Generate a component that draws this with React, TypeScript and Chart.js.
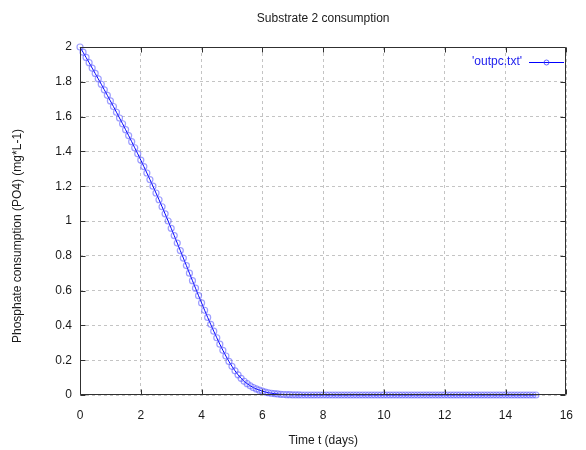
import React, { useEffect, useRef } from "react";
import { Chart, registerables } from "chart.js";

Chart.register(...registerables);

const chartTitle = "Substrate 2 consumption";
const xAxisTitle = "Time t (days)";
const yAxisTitle = "Phosphate consumption (PO4) (mg*L-1)";
const seriesName = "'outpc.txt'";

const xTickLabels = ["0", "2", "4", "6", "8", "10", "12", "14", "16"];
const yTickLabels = ["0", "0.2", "0.4", "0.6", "0.8", "1", "1.2", "1.4", "1.6", "1.8", "2"];

const times = [
  0, 0.1, 0.2, 0.3, 0.4, 0.5, 0.6, 0.7, 0.8, 0.9,
  1, 1.1, 1.2, 1.3, 1.4, 1.5, 1.6, 1.7, 1.8, 1.9,
  2, 2.1, 2.2, 2.3, 2.4, 2.5, 2.6, 2.7, 2.8, 2.9,
  3, 3.1, 3.2, 3.3, 3.4, 3.5, 3.6, 3.7, 3.8, 3.9,
  4, 4.1, 4.2, 4.3, 4.4, 4.5, 4.6, 4.7, 4.8, 4.9,
  5, 5.1, 5.2, 5.3, 5.4, 5.5, 5.6, 5.7, 5.8, 5.9,
  6, 6.1, 6.2, 6.3, 6.4, 6.5, 6.6, 6.7, 6.8, 6.9,
  7, 7.1, 7.2, 7.3, 7.4, 7.5, 7.6, 7.7, 7.8, 7.9,
  8, 8.1, 8.2, 8.3, 8.4, 8.5, 8.6, 8.7, 8.8, 8.9,
  9, 9.1, 9.2, 9.3, 9.4, 9.5, 9.6, 9.7, 9.8, 9.9,
  10, 10.1, 10.2, 10.3, 10.4, 10.5, 10.6, 10.7, 10.8, 10.9,
  11, 11.1, 11.2, 11.3, 11.4, 11.5, 11.6, 11.7, 11.8, 11.9,
  12, 12.1, 12.2, 12.3, 12.4, 12.5, 12.6, 12.7, 12.8, 12.9,
  13, 13.1, 13.2, 13.3, 13.4, 13.5, 13.6, 13.7, 13.8, 13.9,
  14, 14.1, 14.2, 14.3, 14.4, 14.5, 14.6, 14.7, 14.8, 14.9,
  15,
];

const phosphate = [
  2.0, 1.97, 1.94, 1.91, 1.879, 1.848, 1.817, 1.786, 1.754, 1.722,
  1.69, 1.658, 1.625, 1.592, 1.559, 1.525, 1.491, 1.456, 1.421, 1.386,
  1.35, 1.313, 1.276, 1.238, 1.2, 1.161, 1.122, 1.082, 1.041, 1.0,
  0.958, 0.916, 0.873, 0.83, 0.787, 0.744, 0.7, 0.657, 0.614, 0.571,
  0.529, 0.487, 0.446, 0.406, 0.367, 0.329, 0.292, 0.257, 0.224, 0.193,
  0.165, 0.139, 0.116, 0.096, 0.079, 0.065, 0.053, 0.043, 0.035, 0.028,
  0.022, 0.017, 0.013, 0.01, 0.008, 0.006, 0.004, 0.003, 0.002, 0.002,
  0.001, 0.001, 0.001, 0, 0, 0, 0, 0, 0, 0,
  0, 0, 0, 0, 0, 0, 0, 0, 0, 0,
  0, 0, 0, 0, 0, 0, 0, 0, 0, 0,
  0, 0, 0, 0, 0, 0, 0, 0, 0, 0,
  0, 0, 0, 0, 0, 0, 0, 0, 0, 0,
  0, 0, 0, 0, 0, 0, 0, 0, 0, 0,
  0, 0, 0, 0, 0, 0, 0, 0, 0, 0,
  0, 0, 0, 0, 0, 0, 0, 0, 0, 0,
  0,
];

const FONT = '"Liberation Sans", Arial, sans-serif';
const TEXT = "#1a1a1a";
const BLUE = "#0000ff";

const decor = {
  id: "decor",
  afterDraw(chart: any) {
    const { ctx, chartArea, scales } = chart;
    const { left, right, top, bottom } = chartArea;
    ctx.save();
    ctx.setLineDash([]);
    ctx.strokeStyle = "#303030";
    ctx.lineWidth = 1;
    const L = Math.round(left) + 0.5;
    const R = Math.round(right) - 0.5;
    const T = Math.round(top) + 0.5;
    const B = Math.round(bottom) - 0.5;
    ctx.beginPath();
    ctx.rect(L, T, R - L, B - T);
    ctx.stroke();
    // inward tick marks on all sides
    ctx.beginPath();
    scales.x.ticks.forEach((t: any) => {
      const px = Math.round(scales.x.getPixelForValue(t.value)) + 0.5;
      ctx.moveTo(px, B);
      ctx.lineTo(px, B - 5);
      ctx.moveTo(px, T);
      ctx.lineTo(px, T + 5);
    });
    scales.y.ticks.forEach((t: any) => {
      const py = Math.round(scales.y.getPixelForValue(t.value)) + 0.5;
      ctx.moveTo(L, py);
      ctx.lineTo(L + 5, py);
      ctx.moveTo(R, py);
      ctx.lineTo(R - 5, py);
    });
    ctx.stroke();

    // titles
    const cx = (left + right) / 2;
    ctx.fillStyle = TEXT;
    ctx.font = `12px ${FONT}`;
    ctx.textBaseline = "middle";
    ctx.textAlign = "center";
    ctx.fillText(chartTitle, cx, 19);
    ctx.fillText(xAxisTitle, cx, 441);
    ctx.save();
    ctx.translate(18, 236);
    ctx.rotate(-Math.PI / 2);
    ctx.fillText(yAxisTitle, 0, 0);
    ctx.restore();

    // legend inside plot
    ctx.fillStyle = "#2222ee";
    ctx.textAlign = "right";
    ctx.fillText(seriesName, 522, 62);
    ctx.strokeStyle = BLUE;
    ctx.beginPath();
    ctx.moveTo(529, 62.5);
    ctx.lineTo(564, 62.5);
    ctx.stroke();
    ctx.strokeStyle = "rgba(60,60,255,0.8)";
    ctx.beginPath();
    ctx.arc(546.5, 62.5, 2.5, 0, Math.PI * 2);
    ctx.stroke();
    ctx.restore();
  },
};

export default function App() {
  const ref = useRef<HTMLCanvasElement | null>(null);
  useEffect(() => {
    if (!ref.current) return;
    const data = times.map((t, i) => ({ x: t, y: phosphate[i] }));
    const chart = new Chart(ref.current, {
      type: "line",
      data: {
        datasets: [
          {
            label: seriesName,
            data,
            borderColor: BLUE,
            borderWidth: 1,
            pointStyle: "circle",
            pointRadius: 3,
            pointBorderWidth: 1.2,
            pointBorderColor: "rgba(80,80,255,0.55)",
            pointBackgroundColor: "rgba(0,0,0,0)",
            tension: 0,
            clip: 4,
          },
        ],
      },
      options: {
        animation: false,
        responsive: false,
        devicePixelRatio: 1,
        layout: { padding: { top: 47, right: 8, left: 0, bottom: 0 } },
        plugins: {
          legend: { display: false },
          title: { display: false },
          tooltip: { enabled: false },
        },
        scales: {
          x: {
            type: "linear",
            min: 0,
            max: 16,
            afterFit: (s: any) => {
              s.height = 55;
            },
            ticks: {
              stepSize: 2,
              padding: 13,
              color: TEXT,
              font: { family: FONT, size: 12 },
              maxRotation: 0,
              callback: (_v: any, i: number) => xTickLabels[i],
            },
            grid: { color: "#c4c4c4", lineWidth: 1, drawTicks: false },
            border: { display: false, dash: [3, 3] },
          },
          y: {
            type: "linear",
            min: 0,
            max: 2,
            afterFit: (s: any) => {
              s.width = 80;
            },
            ticks: {
              stepSize: 0.2,
              padding: 8,
              color: TEXT,
              font: { family: FONT, size: 12 },
              callback: (_v: any, i: number) => yTickLabels[i],
            },
            grid: { color: "#c4c4c4", lineWidth: 1, drawTicks: false },
            border: { display: false, dash: [3, 3] },
          },
        },
      },
      plugins: [decor],
    });
    return () => chart.destroy();
  }, []);
  return (
    <div
      style={{
        position: "fixed",
        left: 0,
        top: 0,
        width: 586,
        height: 450,
        background: "#fff",
        overflow: "hidden",
      }}
    >
      <canvas ref={ref} width={586} height={450} style={{ width: 586, height: 450, display: "block" }} />
    </div>
  );
}
